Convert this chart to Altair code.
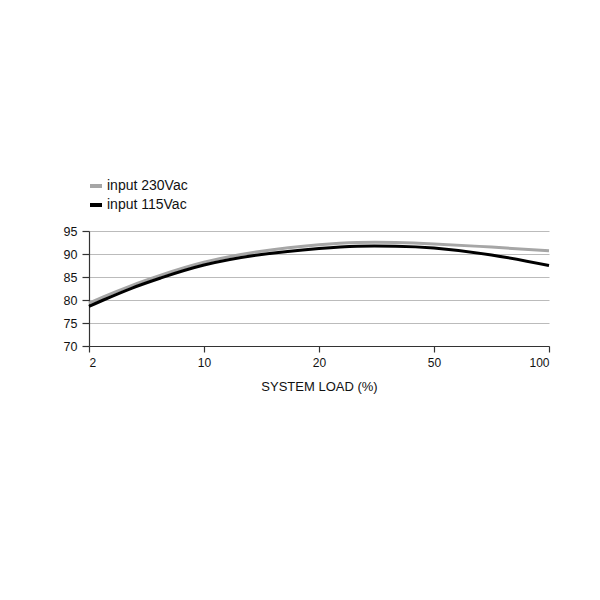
import altair as alt
import pandas as pd

loads = [2, 3, 5, 7, 10, 15, 20, 30, 40, 50, 75, 100]
eff_230 = [79.3, 80.7, 83.2, 85.4, 88.2, 90.6, 92.0, 92.5, 92.5, 92.2, 91.5, 90.7]
eff_115 = [78.6, 80.0, 82.6, 84.8, 87.6, 89.9, 91.2, 91.7, 91.7, 91.3, 89.8, 87.5]
series_names = ["input 230Vac", "input 115Vac"]
x_ticks = [2, 10, 20, 50, 100]
y_ticks = [70, 75, 80, 85, 90, 95]

rows = []
for name, vals in zip(series_names, [eff_230, eff_115]):
    for l, v in zip(loads, vals):
        rows.append({"load": l, "eff": v, "series": name})
df = pd.DataFrame(rows)

W, H = 460, 115

chart = alt.Chart(df).mark_line(strokeWidth=3, interpolate="natural").encode(
    x=alt.X("load:Q",
            scale=alt.Scale(type="linear", domain=x_ticks,
                            range=[0, W * 0.25, W * 0.5, W * 0.75, W]),
            axis=alt.Axis(values=x_ticks, grid=False, title="SYSTEM LOAD (%)",
                          tickSize=6, labelPadding=5, titlePadding=12,
                          labelFontSize=12, titleFontSize=13,
                          titleFontWeight="normal")),
    y=alt.Y("eff:Q",
            scale=alt.Scale(domain=[70, 95], nice=False, zero=False),
            axis=alt.Axis(values=y_ticks, grid=True, title="",
                          tickSize=7, labelPadding=5, labelFontSize=12.5)),
    color=alt.Color("series:N",
                    scale=alt.Scale(domain=series_names, range=["#a6a6a6", "#000000"]),
                    sort=series_names,
                    legend=alt.Legend(title=None, orient="none", legendX=-1, legendY=-53,
                                      symbolType="stroke", symbolSize=144,
                                      symbolStrokeWidth=4, labelOffset=3,
                                      labelFontSize=14, rowPadding=3, padding=0,
                                      labelFont="Liberation Sans", labelColor="#111")),
).properties(
    width=W, height=H,
    autosize=alt.AutoSizeParams(type="none"),
    padding={"left": 81, "top": 223, "right": 40, "bottom": 150},
).configure_axis(
    domainColor="#333", tickColor="#333", gridColor="#bbbbbb",
    labelColor="#111", titleColor="#111",
    labelFont="Liberation Sans", titleFont="Liberation Sans",
    domainWidth=1.2, tickWidth=1.2, gridWidth=1,
).configure_view(stroke=None)

chart.save("out.html", embed_options={"renderer": "svg", "actions": False})
